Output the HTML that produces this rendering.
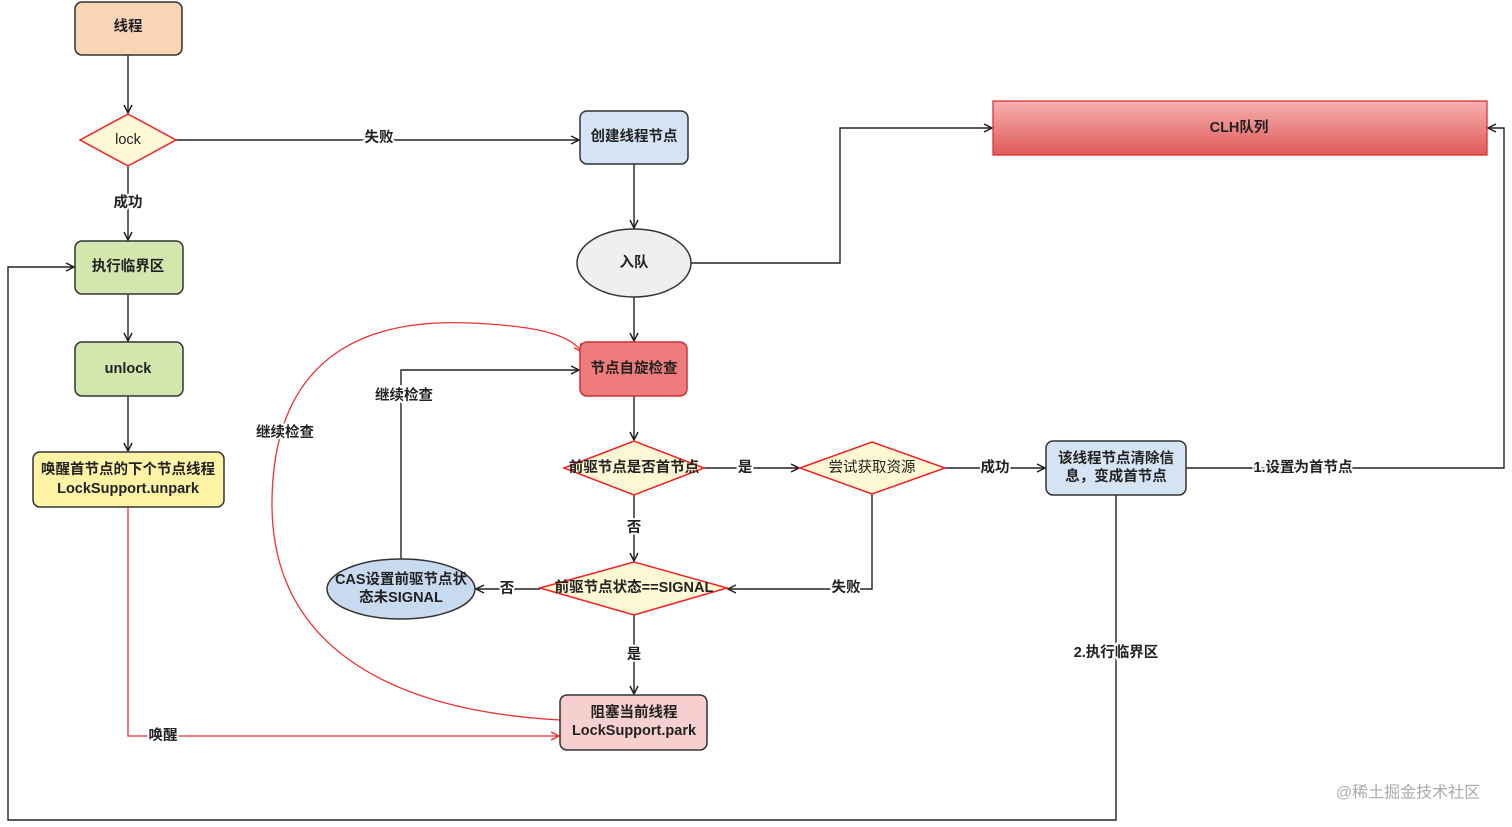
<!DOCTYPE html>
<html><head><meta charset="utf-8"><style>
body{margin:0;background:#fff;}
svg{display:block;font-family:"Liberation Sans","Noto Sans CJK SC",sans-serif;}
text{font-size:14.5px;font-weight:bold;fill:#222;text-anchor:middle;dominant-baseline:central;}
.lbl{paint-order:stroke;stroke:#fff;stroke-width:4px;}
</style></head><body>
<svg width="1512" height="827" viewBox="0 0 1512 827">
<defs>
<marker id="a" markerWidth="10" markerHeight="10" refX="9" refY="5" orient="auto" markerUnits="userSpaceOnUse"><path d="M1,1 L9,5 L1,9" fill="none" stroke="#222" stroke-width="1.5"/></marker>
<marker id="r" markerWidth="10" markerHeight="10" refX="9" refY="5" orient="auto" markerUnits="userSpaceOnUse"><path d="M1,1 L9,5 L1,9" fill="none" stroke="#e33" stroke-width="1.5"/></marker>
<linearGradient id="g" x1="0" y1="0" x2="0" y2="1"><stop offset="0" stop-color="#f6b0b0"/><stop offset="1" stop-color="#e15a5a"/></linearGradient>
</defs>
<g fill="none" stroke="#222" stroke-width="1.4">
<path d="M128 55 V113" marker-end="url(#a)"/>
<path d="M176 140 H579" marker-end="url(#a)"/>
<path d="M128 166 V240" marker-end="url(#a)"/>
<path d="M128 294 V341" marker-end="url(#a)"/>
<path d="M128 396 V451" marker-end="url(#a)"/>
<path d="M634 164 V228" marker-end="url(#a)"/>
<path d="M690 263 H840 V128 H992" marker-end="url(#a)"/>
<path d="M634 297 V341" marker-end="url(#a)"/>
<path d="M634 396 V440" marker-end="url(#a)"/>
<path d="M704 468 H799" marker-end="url(#a)"/>
<path d="M945 468 H1045" marker-end="url(#a)"/>
<path d="M1186 468 H1504 V128 H1488" marker-end="url(#a)"/>
<path d="M872 494 V589 H728" marker-end="url(#a)"/>
<path d="M634 495 V561" marker-end="url(#a)"/>
<path d="M540 589 H476" marker-end="url(#a)"/>
<path d="M401 560 V370 H579" marker-end="url(#a)"/>
<path d="M634 615 V694" marker-end="url(#a)"/>
<path d="M1116 495 V820 H8 V267 H74" marker-end="url(#a)"/>
</g>
<g fill="none" stroke="#e33" stroke-width="1.3">
<path d="M128 507 V736 H559" marker-end="url(#r)"/>
<path d="M560 720 C380 710 270 640 272 500 C274 360 360 318 470 323 C540 326 570 335 582 352" marker-end="url(#r)"/>
</g>
<g stroke="#333" stroke-width="1.5">
<rect x="75" y="2" width="107" height="53" rx="7" fill="#f9d4b5"/>
<rect x="75" y="241" width="108" height="53" rx="7" fill="#d2e6ad"/>
<rect x="75" y="342" width="108" height="54" rx="7" fill="#d2e6ad"/>
<rect x="33" y="452" width="191" height="55" rx="7" fill="#fff3a6"/>
<rect x="580" y="111" width="108" height="53" rx="7" fill="#d5e4f5"/>
<ellipse cx="634" cy="263" rx="57" ry="34" fill="#efefef"/>
<rect x="580" y="342" width="107" height="54" rx="7" fill="#ee7c7c" stroke="#c33"/>
<rect x="1046" y="441" width="140" height="54" rx="7" fill="#d5e4f5"/>
<ellipse cx="401" cy="589" rx="74" ry="30" fill="#c7daf0"/>
<rect x="560" y="695" width="147" height="55" rx="7" fill="#f7cfcf"/>
</g>
<rect x="993" y="101" width="494" height="54" fill="url(#g)" stroke="#d33" stroke-width="1.3"/>
<g stroke="#e22" stroke-width="1.5" fill="#fff8d4">
<polygon points="80,140 128,114 176,140 128,166"/>
<polygon points="564,468 634,441 704,468 634,495"/>
<polygon points="800,468 872,442 945,468 872,494"/>
<polygon points="540,588 634,562 727,588 634,615"/>
</g>
<text x="128" y="27">线程</text>
<text x="128" y="140" style="font-weight:normal">lock</text>
<text class="lbl" x="128" y="203">成功</text>
<text x="128" y="267">执行临界区</text>
<text x="128" y="369">unlock</text>
<text x="128" y="470">唤醒首节点的下个节点线程</text>
<text x="128" y="489">LockSupport.unpark</text>
<text class="lbl" x="379" y="138">失败</text>
<text x="634" y="137">创建线程节点</text>
<text x="634" y="263">入队</text>
<text x="1239" y="128">CLH队列</text>
<text x="634" y="369">节点自旋检查</text>
<text x="634" y="468">前驱节点是否首节点</text>
<text class="lbl" x="745" y="468">是</text>
<text x="872" y="468" style="font-weight:normal">尝试获取资源</text>
<text class="lbl" x="995" y="468">成功</text>
<text x="1116" y="459">该线程节点清除信</text>
<text x="1116" y="477">息，变成首节点</text>
<text class="lbl" x="1303" y="468">1.设置为首节点</text>
<text class="lbl" x="634" y="528">否</text>
<text x="634" y="588">前驱节点状态==SIGNAL</text>
<text class="lbl" x="846" y="588">失败</text>
<text class="lbl" x="507" y="589">否</text>
<text x="401" y="580">CAS设置前驱节点状</text>
<text x="401" y="598">态未SIGNAL</text>
<text class="lbl" x="404" y="396">继续检查</text>
<text class="lbl" x="285" y="433">继续检查</text>
<text class="lbl" x="634" y="655">是</text>
<text class="lbl" x="1116" y="653">2.执行临界区</text>
<text x="634" y="713">阻塞当前线程</text>
<text x="634" y="731">LockSupport.park</text>
<text class="lbl" x="163" y="736">唤醒</text>
<text x="1408" y="793" style="font-weight:normal;fill:#aaa;font-size:16px">@稀土掘金技术社区</text>
</svg>
</body></html>
